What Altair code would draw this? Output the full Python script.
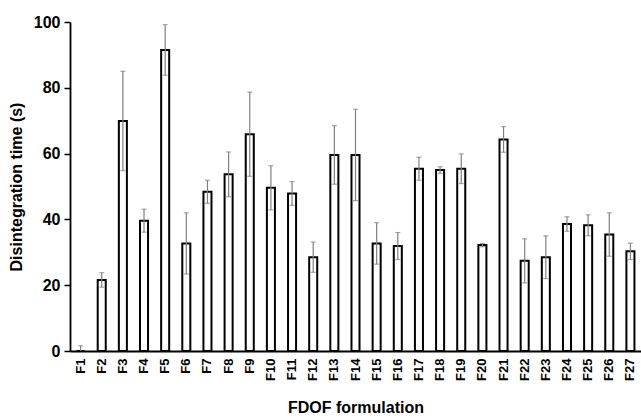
import altair as alt
import pandas as pd

formulations = ["F1", "F2", "F3", "F4", "F5", "F6", "F7", "F8", "F9", "F10",
                "F11", "F12", "F13", "F14", "F15", "F16", "F17", "F18", "F19",
                "F20", "F21", "F22", "F23", "F24", "F25", "F26", "F27"]
mean_time = [0.0, 21.6, 69.9, 39.6, 91.5, 32.7, 48.4, 53.7, 65.9, 49.6,
             47.9, 28.5, 59.6, 59.6, 32.7, 31.9, 55.4, 55.0, 55.4,
             32.2, 64.3, 27.4, 28.5, 38.6, 38.2, 35.4, 30.3]
sd_time = [1.6, 2.2, 15.1, 3.5, 7.7, 9.3, 3.5, 6.8, 12.8, 6.7,
           3.6, 4.6, 8.9, 13.9, 6.3, 4.1, 3.5, 1.0, 4.5,
           0.5, 3.9, 6.7, 6.5, 2.2, 3.2, 6.6, 2.5]

df = pd.DataFrame({"f": formulations, "m": mean_time, "sd": sd_time})
df["lo"] = df["m"] - df["sd"]
df["hi"] = df["m"] + df["sd"]

xenc = alt.X(
    "f:N", sort=formulations,
    scale=alt.Scale(paddingInner=0.62, paddingOuter=0.31),
    axis=alt.Axis(title="FDOF formulation", labelAngle=-90, ticks=False,
                  labelFontSize=13, labelPadding=7, titleFontSize=16,
                  titlePadding=19),
)
yscale = alt.Scale(domain=[0, 100])
yaxis = alt.Axis(title="Disintegration time (s)", values=[0, 20, 40, 60, 80, 100],
                 tickSize=6, labelFontSize=16, labelPadding=4,
                 titleFontSize=16, titlePadding=9)

base = alt.Chart(df)
bars = base.mark_bar(fill="white", stroke="black", strokeWidth=2).encode(
    x=xenc, y=alt.Y("m:Q", scale=yscale, axis=yaxis)
)
err = base.mark_rule(color="#808080", strokeWidth=1.2, clip=True).encode(
    x=alt.X("f:N", sort=formulations), y="lo:Q", y2="hi:Q"
)
cap_hi = base.mark_tick(color="#808080", size=5, thickness=1.2, clip=True).encode(
    x=alt.X("f:N", sort=formulations), y="hi:Q"
)
cap_lo = base.mark_tick(color="#808080", size=5, thickness=1.2, clip=True).encode(
    x=alt.X("f:N", sort=formulations), y="lo:Q"
)

chart = alt.layer(bars, err, cap_hi, cap_lo).properties(
    width=571, height=329,
    autosize=alt.AutoSizeParams(type="none"),
    padding={"left": 70, "top": 22, "right": 0, "bottom": 68},
).configure_axis(
    grid=False, domainColor="black", domainWidth=1.8, tickColor="black",
    tickWidth=1.5, labelColor="black", titleColor="black",
    labelFontWeight="bold", titleFontWeight="bold", labelFont="Liberation Sans",
    titleFont="Liberation Sans",
).configure_view(stroke=None)

chart.save("out.html", embed_options={"renderer": "svg", "actions": False})
